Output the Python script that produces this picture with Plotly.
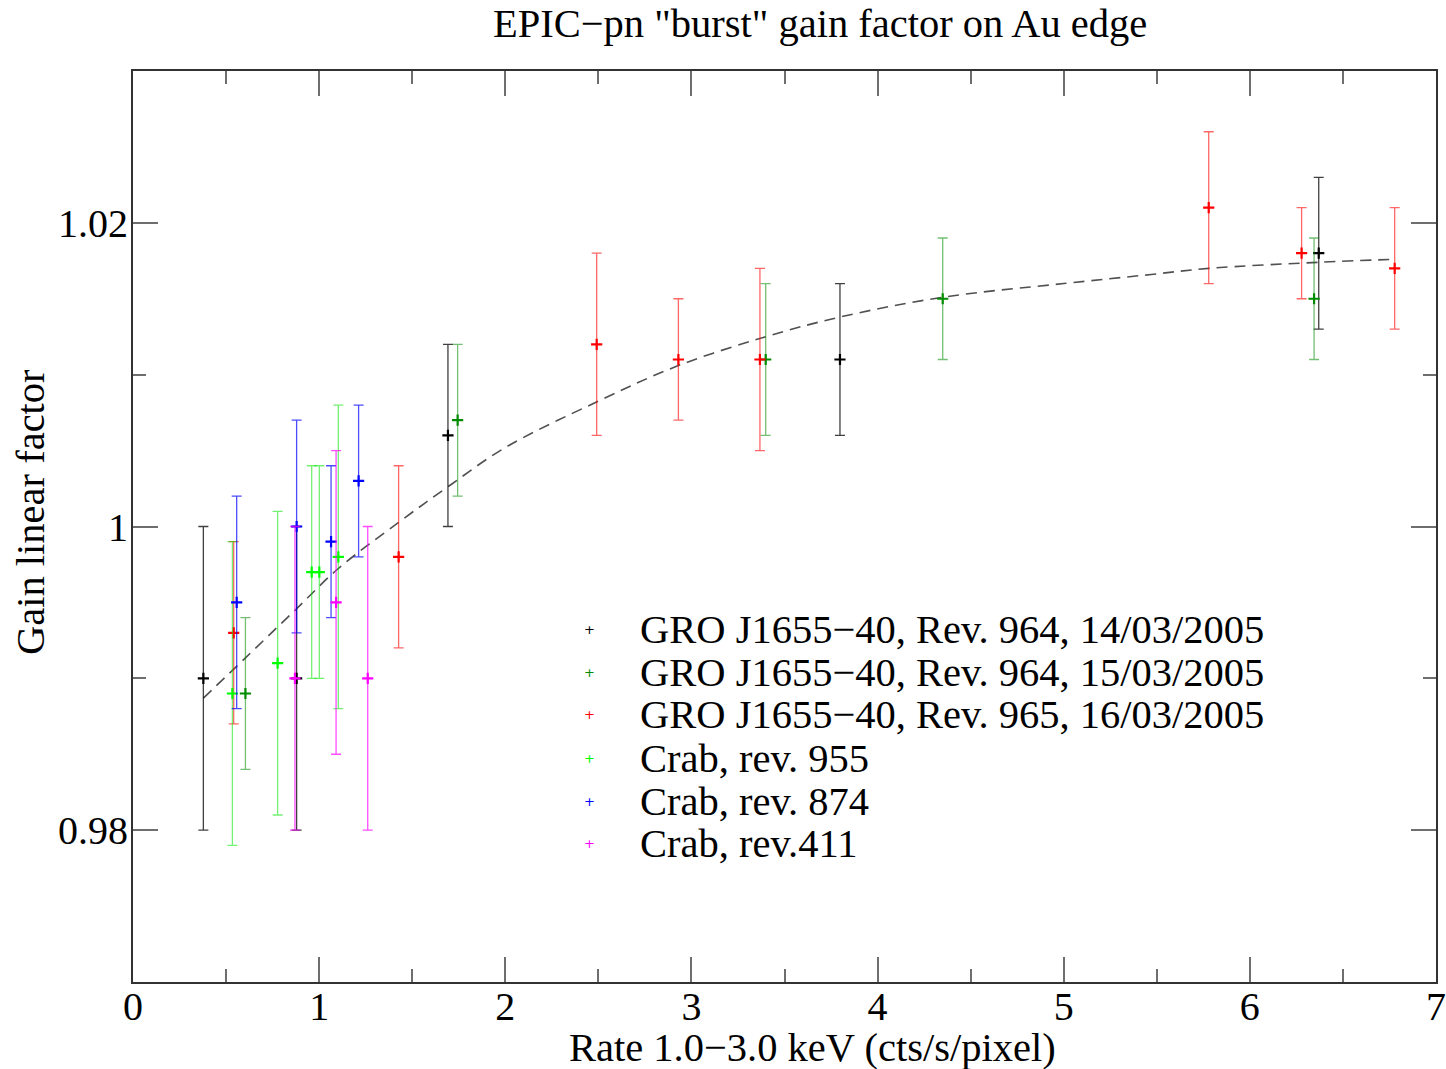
import plotly.graph_objects as go

# ---------------- data ----------------
labels = [
    "GRO J1655\u221240, Rev. 964, 14/03/2005",
    "GRO J1655\u221240, Rev. 964, 15/03/2005",
    "GRO J1655\u221240, Rev. 965, 16/03/2005",
    "Crab, rev. 955",
    "Crab, rev. 874",
    "Crab, rev.411",
]

gro964a_x = [0.378, 0.879, 1.692, 3.798, 6.370]
gro964a_y = [0.990, 0.990, 1.006, 1.011, 1.018]
gro964a_e = [0.010, 0.010, 0.006, 0.005, 0.005]

gro964b_x = [0.604, 1.744, 3.399, 4.350, 6.345]
gro964b_y = [0.989, 1.007, 1.011, 1.015, 1.015]
gro964b_e = [0.005, 0.005, 0.005, 0.004, 0.004]

gro965_x = [0.541, 1.427, 2.491, 2.930, 3.368, 5.779, 6.278, 6.778]
gro965_y = [0.993, 0.998, 1.012, 1.011, 1.011, 1.021, 1.018, 1.017]
gro965_e = [0.006, 0.006, 0.006, 0.004, 0.006, 0.005, 0.003, 0.004]

crab955_x = [0.534, 0.777, 0.960, 1.001, 1.103]
crab955_y = [0.989, 0.991, 0.997, 0.997, 0.998]
crab955_e = [0.010, 0.010, 0.007, 0.007, 0.010]

crab874_x = [0.557, 0.879, 1.064, 1.212]
crab874_y = [0.995, 1.000, 0.999, 1.003]
crab874_e = [0.007, 0.007, 0.005, 0.005]

crab411_x = [0.870, 1.091, 1.261]
crab411_y = [0.990, 0.995, 0.990]
crab411_e = [0.010, 0.010, 0.010]

# dashed fit curve
fit_x = [0.378, 0.60, 0.88, 1.10, 1.43, 1.69, 2.00, 2.49, 2.93, 3.40, 3.80, 4.35, 5.00, 5.47, 5.78, 6.37, 6.778]
fit_y = [0.9887, 0.9913, 0.9946, 0.9972, 1.0003, 1.0026, 1.0052, 1.0082, 1.0106, 1.0125, 1.0138, 1.0151, 1.0160, 1.0166, 1.0170, 1.0174, 1.0176]

x_ticks = [0, 1, 2, 3, 4, 5, 6, 7]
x_minor = [0.5, 1.5, 2.5, 3.5, 4.5, 5.5, 6.5]
y_ticks = [0.98, 1.00, 1.02]
y_ticktext = ["0.98", "1", "1.02"]
y_minor = [0.97, 0.99, 1.01, 1.03]

# ---------------- styling ----------------
FONT = "Liberation Serif, Times New Roman, serif"
colors = ["rgb(0,0,0)", "rgb(0,139,0)", "rgb(255,0,0)",
          "rgb(0,255,0)", "rgb(0,0,255)", "rgb(255,0,255)"]
bar_colors = ["rgba(0,0,0,0.75)", "rgba(0,139,0,0.55)", "rgba(255,0,0,0.6)",
              "rgba(0,230,0,0.55)", "rgba(0,0,255,0.7)", "rgba(255,0,255,0.7)"]

W, H = 1446, 1069
ML, MR, MT, MB = 133, 10, 71, 87
PW, PH = W - ML - MR, H - MT - MB


def px2paper_x(px):
    return (px - ML) / PW


def px2paper_y(py):
    return (H - MB - py) / PH


series = [
    (gro964a_x, gro964a_y, gro964a_e),
    (gro964b_x, gro964b_y, gro964b_e),
    (gro965_x, gro965_y, gro965_e),
    (crab955_x, crab955_y, crab955_e),
    (crab874_x, crab874_y, crab874_e),
    (crab411_x, crab411_y, crab411_e),
]

fig = go.Figure()

fig.add_trace(go.Scatter(
    x=fit_x, y=fit_y, mode="lines", line_shape="spline",
    line=dict(color="rgb(80,80,80)", width=1.6, dash="11px,7px"),
    showlegend=False, hoverinfo="skip"))

for (xs, ys, es), name, c, bc in zip(series, labels, colors, bar_colors):
    fig.add_trace(go.Scatter(
        x=xs, y=ys, mode="markers", name=name, showlegend=False,
        marker=dict(symbol="cross-thin", size=8, color=c,
                    line=dict(color=c, width=2.2)),
        error_y=dict(type="data", array=es, visible=True,
                     color=bc, thickness=1.3, width=5),
    ))

annotations = []
# title
annotations.append(dict(
    text='EPIC\u2212pn "burst" gain factor on Au edge',
    xref="paper", yref="paper", x=px2paper_x(820), y=px2paper_y(24),
    xanchor="center", yanchor="middle", showarrow=False,
    font=dict(family=FONT, size=40.5, color="black")))
# x axis title
annotations.append(dict(
    text="Rate 1.0\u22123.0 keV (cts/s/pixel)",
    xref="paper", yref="paper", x=px2paper_x(812), y=px2paper_y(1047),
    xanchor="center", yanchor="middle", showarrow=False,
    font=dict(family=FONT, size=40.5, color="black")))
# y axis title
annotations.append(dict(
    text="Gain linear factor", textangle=-90,
    xref="paper", yref="paper", x=px2paper_x(30), y=px2paper_y(512),
    xanchor="center", yanchor="middle", showarrow=False,
    font=dict(family=FONT, size=40.5, color="black")))

# legend (drawn as text, matching the reference layout)
row_y = [629, 672, 715, 758, 801, 844]
for name, c, ry in zip(labels, colors, row_y):
    annotations.append(dict(
        text="+", xref="paper", yref="paper",
        x=px2paper_x(589), y=px2paper_y(ry),
        xanchor="center", yanchor="middle", showarrow=False,
        font=dict(family="DejaVu Sans", size=13, color=c)))
    annotations.append(dict(
        text=name, xref="paper", yref="paper",
        x=px2paper_x(638), y=px2paper_y(ry),
        xanchor="left", yanchor="middle", showarrow=False,
        font=dict(family=FONT, size=40.5, color="black")))

axis_common = dict(
    showline=True, mirror="allticks", linecolor="rgb(50,50,50)", linewidth=2,
    ticks="inside", ticklen=25, tickwidth=1.5, tickcolor="rgb(110,110,110)",
    showgrid=False, zeroline=False, automargin=False,
    tickfont=dict(family=FONT, size=40, color="black"),
)

fig.update_layout(
    width=W, height=H,
    margin=dict(l=ML, r=MR, t=MT, b=MB, autoexpand=False),
    paper_bgcolor="white", plot_bgcolor="white",
    showlegend=False,
    annotations=annotations,
    xaxis=dict(
        range=[0, 7], tickmode="array", tickvals=x_ticks,
        ticklabelstandoff=-12,
        minor=dict(tickmode="array", tickvals=x_minor, ticks="inside",
                   ticklen=13, tickwidth=1.5, tickcolor="rgb(110,110,110)"),
        **axis_common),
    yaxis=dict(
        range=[0.97, 1.03], tickmode="array", tickvals=y_ticks,
        ticktext=y_ticktext, ticklabelstandoff=-5,
        minor=dict(tickmode="array", tickvals=y_minor, ticks="inside",
                   ticklen=13, tickwidth=1.5, tickcolor="rgb(110,110,110)"),
        **axis_common),
)

fig.write_html("out.html")
